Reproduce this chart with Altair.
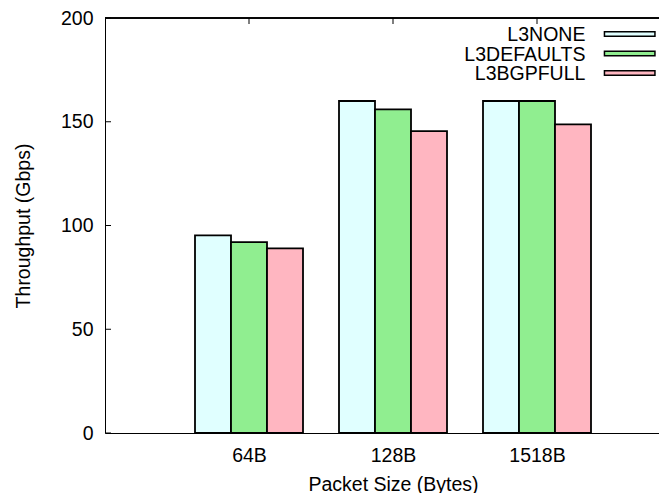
import altair as alt
import pandas as pd

categories = ["64B", "128B", "1518B"]
series_names = ["L3NONE", "L3DEFAULTS", "L3BGPFULL"]
l3none = [95.2, 160.0, 160.0]
l3defaults = [92.0, 156.0, 160.0]
l3bgpfull = [89.0, 145.5, 148.7]
colors = ["#e0ffff", "#90ee90", "#ffb6c1"]
y_ticks = [0, 50, 100, 150, 200]

FONT = "Liberation Sans"
FS = 19.5
W, H = 554, 415
BW = 0.25  # bar width in group units

rows = []
for k, (name, vals) in enumerate(zip(series_names, [l3none, l3defaults, l3bgpfull])):
    for gi, v in enumerate(vals):
        x0 = gi + (k - 1.5) * BW
        rows.append({"category": categories[gi], "series": name, "value": v,
                     "x0": x0, "x1": x0 + BW, "order": k})
df = pd.DataFrame(rows)

xscale = alt.Scale(domain=[-1, -1 + W / 144.0], nice=False, zero=False)
yscale = alt.Scale(domain=[0, 200], nice=False)
cscale = alt.Scale(domain=series_names, range=colors)

label_expr = "[" + ",".join("'%s'" % c for c in categories) + "][datum.value]"

bars = alt.Chart(df).mark_bar(stroke="black", strokeWidth=1.8).encode(
    x=alt.X("x0:Q", scale=xscale,
            axis=alt.Axis(values=list(range(len(categories))), labelExpr=label_expr,
                          ticks=False, tickSize=0, grid=False, domain=True,
                          domainColor="black", domainWidth=1, labelPadding=13,
                          title="Packet Size (Bytes)", titleX=288, titleY=57,
                          titleBaseline="alphabetic", titleAlign="center")),
    x2="x1:Q",
    y=alt.Y("value:Q", scale=yscale, stack=None,
            axis=alt.Axis(values=y_ticks, ticks=False, tickSize=0, grid=False,
                          domain=True, domainColor="black", domainWidth=1,
                          labelPadding=12, title="Throughput (Gbps)",
                          titleX=-76, titleY=H / 2, titleAngle=-90,
                          titleBaseline="alphabetic", titleAlign="center")),
    y2=alt.datum(0),
    fill=alt.Fill("series:N", scale=cscale, legend=None),
)

ytick_df = pd.DataFrame({"v": y_ticks})
yticks = alt.Chart(ytick_df).mark_tick(orient="horizontal", size=6, thickness=1,
                                       color="black", opacity=1).encode(
    y=alt.Y("v:Q", scale=yscale),
    x=alt.value(3),
)

xtick_df = pd.DataFrame({"v": list(range(len(categories)))})
xticks = alt.Chart(xtick_df).mark_tick(orient="vertical", size=6, thickness=1,
                                       color="black", opacity=1).encode(
    x=alt.X("v:Q", scale=xscale),
    y=alt.value(3),
)

toprule = alt.Chart(ytick_df).mark_rule(color="black", strokeWidth=1).encode(
    x=alt.value(0), x2=alt.value(W), y=alt.value(0)
)

main = alt.layer(bars, yticks, xticks, toprule)

leg_df = pd.DataFrame({"series": series_names})
leg_y = alt.Y("series:N", sort=series_names,
              scale=alt.Scale(type="point", range=[16, 55], padding=0), axis=None)

swatch = alt.Chart(leg_df).mark_point(
    shape="M-1,-0.089L1,-0.089L1,0.089L-1,0.089Z", size=2550, filled=True,
    stroke="black", strokeWidth=1.5, opacity=1
).encode(
    x=alt.value(524.7),
    y=leg_y,
    fill=alt.Fill("series:N", scale=cscale, legend=None),
)

leg_text = alt.Chart(leg_df).mark_text(
    align="right", baseline="alphabetic", dy=7, font=FONT, fontSize=FS, color="black"
).encode(
    x=alt.value(480.4),
    y=leg_y,
    text="series:N",
)

legend = alt.layer(swatch, leg_text)

chart = alt.layer(main, legend).resolve_scale(y="independent").properties(
    width=W, height=H,
    padding={"left": 97, "top": 10, "right": 0, "bottom": 60},
    autosize=alt.AutoSizeParams(type="none"),
).configure_view(stroke=None).configure_axis(
    labelFont=FONT, labelFontSize=FS, labelColor="black",
    titleFont=FONT, titleFontSize=FS, titleColor="black", titleFontWeight="normal",
)

chart.save("out.html", embed_options={"renderer": "svg", "actions": False})
